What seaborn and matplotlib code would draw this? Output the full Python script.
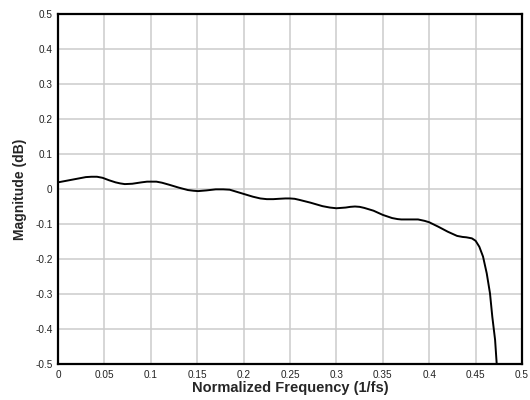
import matplotlib
matplotlib.use("Agg")
import matplotlib.pyplot as plt
import seaborn as sns
import pandas as pd

freq = [0.000, 0.010, 0.020, 0.030, 0.036, 0.042, 0.048, 0.055, 0.062, 0.067, 0.072, 0.080,
        0.090, 0.096, 0.101, 0.106, 0.112, 0.120, 0.130, 0.140, 0.146, 0.151, 0.160, 0.170, 0.178,
        0.185, 0.190, 0.200, 0.210, 0.218, 0.225, 0.232, 0.238, 0.245, 0.250, 0.255, 0.260, 0.272, 0.285,
        0.293, 0.300, 0.310, 0.315, 0.320, 0.325, 0.330, 0.340, 0.350, 0.360, 0.366, 0.370, 0.380, 0.388, 0.395,
        0.400, 0.410, 0.420, 0.430, 0.436, 0.440, 0.446, 0.450, 0.454, 0.458, 0.462,
        0.4655, 0.468, 0.471, 0.4727, 0.474]
magnitude = [0.019, 0.024, 0.029, 0.034, 0.035, 0.035, 0.032, 0.025, 0.019, 0.016, 0.014, 0.015,
             0.019, 0.021, 0.021, 0.021, 0.018, 0.012, 0.004, -0.003, -0.005, -0.006, -0.004, -0.001, -0.001,
             -0.002, -0.006, -0.014, -0.022, -0.027, -0.029, -0.029, -0.028, -0.027, -0.027, -0.028, -0.031, -0.039, -0.049,
             -0.053, -0.055, -0.053, -0.051, -0.050, -0.051, -0.054, -0.062, -0.074, -0.083, -0.086, -0.087, -0.087, -0.087, -0.091,
             -0.095, -0.108, -0.122, -0.134, -0.137, -0.138, -0.141, -0.148, -0.165, -0.193, -0.241,
             -0.298, -0.365, -0.431, -0.498, -0.540]

x_ticks = [0, 0.05, 0.1, 0.15, 0.2, 0.25, 0.3, 0.35, 0.4, 0.45, 0.5]
x_tick_labels = ["0", "0.05", "0.1", "0.15", "0.2", "0.25", "0.3", "0.35", "0.4", "0.45", "0.5"]
y_ticks = [-0.5, -0.4, -0.3, -0.2, -0.1, 0, 0.1, 0.2, 0.3, 0.4, 0.5]
y_tick_labels = ["-0.5", "-0.4", "-0.3", "-0.2", "-0.1", "0", "0.1", "0.2", "0.3", "0.4", "0.5"]

sns.set_style("whitegrid")
plt.rcParams['font.family'] = ['Liberation Sans', 'DejaVu Sans']

df = pd.DataFrame({"freq": freq, "mag": magnitude})

fig = plt.figure(figsize=(5.3, 4.0), dpi=100)
ax = fig.add_axes([58/530, 1-364/400, (522-58)/530, (364-14)/400])
sns.lineplot(data=df, x="freq", y="mag", ax=ax, color="black", linewidth=1.4, sort=False)

ax.set_xlim(0, 0.5)
ax.set_ylim(-0.5, 0.5)
ax.set_xticks(x_ticks)
ax.set_xticklabels(x_tick_labels)
ax.set_yticks(y_ticks)
ax.set_yticklabels(y_tick_labels)
ax.tick_params(axis='both', labelsize=7.2, colors='#222222', length=0, pad=4)
ax.grid(True, color='#cccccc', linewidth=1.1)
for s in ax.spines.values():
    s.set_color('black')
    s.set_linewidth(1.6)
ax.set_xlabel("Normalized Frequency (1/fs)", fontsize=10.5, fontweight='bold', labelpad=1)
ax.set_ylabel("Magnitude (dB)", fontsize=10, fontweight='bold', labelpad=6)

fig.savefig("out.png", dpi=100, facecolor='white')
